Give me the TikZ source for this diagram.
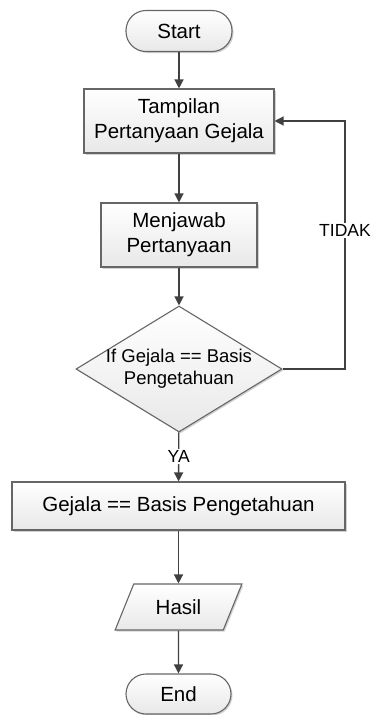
\documentclass[tikz,border=0pt]{standalone}
\usepackage{fontspec}
\setmainfont{Liberation Sans}
\usetikzlibrary{shapes.geometric,arrows.meta,shadows}
\tikzset{>={Triangle[length=9pt,width=9pt]}}
\tikzset{
  flowbox/.style={draw=black!60, line width=1.1pt, top color=white, bottom color=black!9,
    drop shadow={shadow xshift=1.5pt, shadow yshift=-1.5pt, fill=black!35, opacity=.5},
    font=\fontsize{20.5}{25}\selectfont, align=center},
  terminal/.style={flowbox, rounded corners=20pt, minimum width=106pt, minimum height=41pt},
  process/.style={flowbox, rectangle, minimum height=64pt},
  decision/.style={flowbox, diamond, inner xsep=-20pt, inner ysep=-10pt,
    minimum width=206pt, minimum height=126pt, font=\fontsize{18.5}{22}\selectfont},
  iobox/.style={flowbox, trapezium, trapezium left angle=63.4, trapezium right angle=116.6,
    trapezium stretches=true, minimum width=127pt, minimum height=46pt},
  flow/.style={->, draw=black!75, line width=1.3pt},
  cond/.style={font=\fontsize{17.5}{20}\selectfont, fill=white, inner sep=1.5pt}
}

\begin{document}
\begin{tikzpicture}[x=1pt, y=-1pt]
\useasboundingbox (0, 0) rectangle (371, 715);
\node[terminal] (start) at (179, 31) {Start};
\node[process, minimum width=190pt] (tampil) at (179, 121) {Tampilan\\Pertanyaan Gejala};
\node[process, minimum width=156pt] (jawab) at (179, 235) {Menjawab\\Pertanyaan};
\node[decision] (cek) at (179, 369) {If Gejala == Basis\\Pengetahuan};
\node[process, minimum width=333pt, minimum height=48pt] (cocok) at (178.5, 506) {Gejala == Basis Pengetahuan};
\node[iobox] (hasil) at (178.5, 607) {Hasil};
\node[terminal, minimum width=105pt, minimum height=40pt] (end) at (178.5, 694) {End};
\coordinate (kanan) at (345, 369);
\draw[flow] (start) -- (tampil);
\draw[flow] (tampil) -- (jawab);
\draw[flow] (jawab) -- (cek);
\draw[flow] (cek) -- node[cond] {YA} (cocok);
\draw[flow] (cocok) -- (hasil);
\draw[flow] (hasil) -- (end);
\draw[flow] (cek.east) -- (kanan) -- node[cond, pos=.56] {TIDAK} (kanan |- tampil) -- (tampil.east);
\end{tikzpicture}
\end{document}
